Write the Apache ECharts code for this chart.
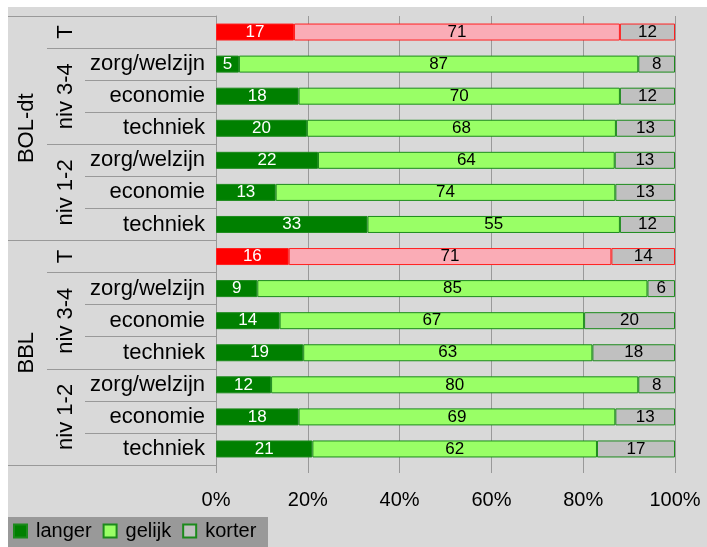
<!DOCTYPE html>
<html>
<head>
<meta charset="utf-8">
<script src="https://cdn.jsdelivr.net/npm/echarts@6/dist/echarts.min.js"></script>
<style>
    html, body { margin: 0; padding: 0; background: #fff; }
    #chart { position: absolute; left: 8px; top: 7px; width: 699px; height: 540px; }
</style>
</head>
<body>
<div id="chart"></div>
<script>
    // rows from top to bottom
    const level1Labels = ['', '', '', 'BOL-dt', '', '', '', '', '', '', 'BBL', '', '', '']
    const level2Labels = ['T', '', 'niv 3-4', '', '', 'niv 1-2', '', 'T', '', 'niv 3-4', '', '', 'niv 1-2', '']
    const level3Labels = ['', 'zorg/welzijn', 'economie', 'techniek', 'zorg/welzijn', 'economie', 'techniek',
                          '', 'zorg/welzijn', 'economie', 'techniek', 'zorg/welzijn', 'economie', 'techniek']
    const totalRows = [0, 7]
    const level2Breaks = [0, 1, 4, 7, 8, 11]
    const level1Breaks = [0, 7]

    const seriesNames = ['langer', 'gelijk', 'korter']
    const langer = [17, 5, 18, 20, 22, 13, 33, 16, 9, 14, 19, 12, 18, 21]
    const gelijk = [71, 87, 70, 68, 64, 74, 55, 71, 85, 67, 63, 80, 69, 62]
    const korter = [12, 8, 12, 13, 13, 13, 12, 14, 6, 20, 18, 8, 13, 17]
    const xTicks = [0, 20, 40, 60, 80, 100]

    const font = 'Liberation Sans, Arial, sans-serif'
    const rows = level3Labels.map((_, i) => 'r' + i)
    const sums = langer.map((v, i) => v + gelijk[i] + korter[i])

    const colors = ['#008000', '#99ff66', '#c0c0c0']
    const totalColors = ['#ff0000', '#faacb6', '#c0c0c0']
    const labelColors = ['#ffffff', '#000000', '#000000']

    const makeSeries = (name, values, k) => ({
        name,
        type: 'bar',
        stack: 'all',
        barWidth: 17,
        itemStyle: { color: colors[k], borderColor: '#1c8a1c', borderWidth: 1 },
        label: {
            show: true, position: 'inside', fontSize: 17, fontFamily: font,
            color: labelColors[k], formatter: p => p.data.raw
        },
        data: values.map((v, i) => ({
            value: v / sums[i] * 100,
            raw: v,
            itemStyle: totalRows.includes(i)
                ? { color: totalColors[k], borderColor: '#ff2020' }
                : undefined
        }))
    })

    const catAxis = (labels, tickLen, tickFn, extra) => Object.assign({
        type: 'category',
        data: rows,
        inverse: true,
        position: 'left',
        axisLine: { show: false },
        axisTick: { show: true, length: tickLen, interval: tickFn, lineStyle: { color: '#999' } },
        axisLabel: {
            interval: 0, fontSize: 22, fontFamily: font, color: '#000',
            formatter: (v, i) => labels[i]
        },
        splitLine: { show: false }
    }, extra)

    const chart = echarts.init(document.getElementById('chart'))
    chart.setOption({
        backgroundColor: '#d9d9d9',
        animation: false,
        grid: { left: 208, right: 32, top: 9, bottom: 82 },
        graphic: [{
            type: 'rect', left: 0, top: 510, z: -1,
            shape: { width: 260, height: 30 },
            style: { fill: '#999999' }
        }],
        legend: {
            left: 5, top: 514, padding: 0,
            icon: 'rect',
            itemWidth: 13, itemHeight: 13, itemGap: 11,
            textStyle: { fontSize: 20, fontFamily: font, color: '#000', padding: [0, 0, 0, 4] },
            data: seriesNames
        },
        xAxis: {
            type: 'value', min: 0, max: 100, interval: 20,
            axisLine: { show: false },
            axisTick: { show: true, length: 8, lineStyle: { color: '#999' } },
            splitLine: { show: true, lineStyle: { color: '#999' } },
            axisLabel: {
                fontSize: 20, fontFamily: font, color: '#000', margin: 25,
                formatter: v => xTicks.includes(v) ? v + '%' : ''
            }
        },
        yAxis: [
            catAxis(level3Labels, 131, () => true, {
                axisLine: { show: true, lineStyle: { color: '#999' } },
                axisLabel: {
                    interval: 0, fontSize: 22, fontFamily: font, color: '#000', margin: 11,
                    formatter: (v, i) => level3Labels[i]
                }
            }),
            catAxis(level2Labels, 169, i => level2Breaks.includes(i), {
                axisLabel: {
                    interval: 0, fontSize: 22, fontFamily: font, color: '#000', margin: 139, rotate: 90,
                    formatter: (v, i) => level2Labels[i]
                }
            }),
            catAxis(level1Labels, 208, i => level1Breaks.includes(i), {
                axisLabel: {
                    interval: 0, fontSize: 22, fontFamily: font, color: '#000', margin: 178, rotate: 90,
                    formatter: (v, i) => level1Labels[i]
                }
            })
        ],
        series: [
            makeSeries(seriesNames[0], langer, 0),
            makeSeries(seriesNames[1], gelijk, 1),
            makeSeries(seriesNames[2], korter, 2)
        ]
    })
</script>
</body>
</html>
